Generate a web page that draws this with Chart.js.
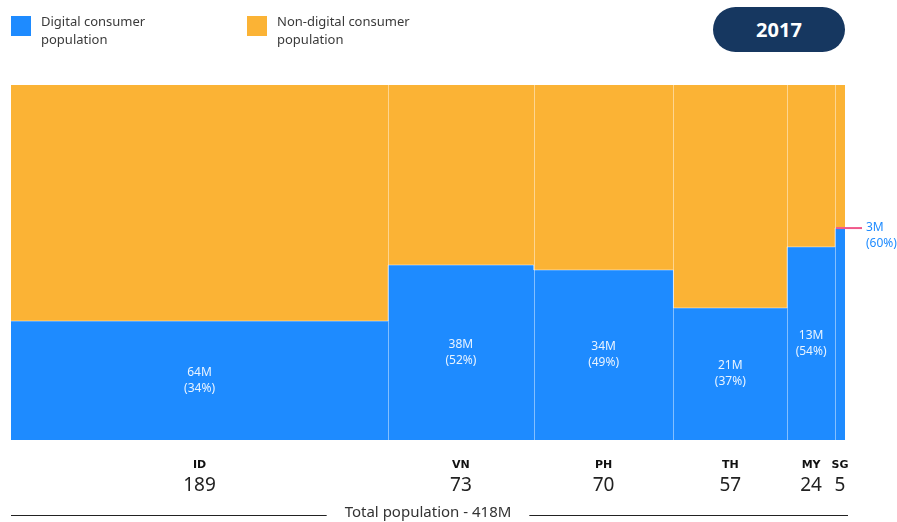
<!DOCTYPE html>
<html>
<head>
<meta charset="utf-8">
<script src="https://cdn.jsdelivr.net/npm/chart.js@4/dist/chart.umd.min.js"></script>
<style>
  body { margin: 0; background: #fff; font-family: "Noto Sans", sans-serif; }
  #wrap { position: relative; width: 897px; height: 522px; }
  .legend { position: absolute; top: 12px; display: flex; align-items: flex-start; font-size: 13px; line-height: 18px; color: #3a3a3a; }
  .legend span.box { width: 20px; height: 20px; margin-top: 4px; margin-right: 10px; flex: none; }
  #badge { position: absolute; left: 713px; top: 7px; width: 132px; height: 45px; border-radius: 23px;
           background: #163760; color: #fff; font: bold 20px "Noto Sans", sans-serif; text-align: center; line-height: 45px; }
</style>
</head>
<body>
<div id="wrap">
  <canvas id="chart" width="897" height="522"></canvas>
  <div class="legend" style="left:11px"><span class="box" style="background:#1e8bff"></span><div>Digital consumer<br>population</div></div>
  <div class="legend" style="left:247px"><span class="box" style="background:#fbb335"></span><div>Non-digital consumer<br>population</div></div>
  <div id="badge">2017</div>
</div>
<script>
// 2017 populations (M) and digital consumer share
const countries = ["ID", "VN", "PH", "TH", "MY", "SG"];
const population = [189, 73, 70, 57, 24, 5];
const digitalM = [64, 38, 34, 21, 13, 3];
const digitalPctLabel = [34, 52, 49, 37, 54, 60];
const digitalShare = [33.5, 49.3, 47.9, 37.2, 54.4, 59.7]; // heights as drawn
const totalLabel = "Total population - 418M";

const BLUE = "#1e8bff";
const ORANGE = "#fbb335";

const total = population.reduce((a, b) => a + b, 0);
const starts = [];
let acc = 0;
population.forEach(p => { starts.push(acc); acc += p; });
const centers = starts.map((s, i) => s + population[i] / 2);
const bounds = starts.slice(1);

// step points: each segment takes the value of the point where it starts
const digitalPts = starts.map((s, i) => ({ x: s, y: digitalShare[i] }));
digitalPts.push({ x: total, y: digitalShare[digitalShare.length - 1] });
const fullPts = digitalPts.map(p => ({ x: p.x, y: 100 }));

const labelsPlugin = {
  id: "labels",
  afterDatasetsDraw(chart) {
    const { ctx, chartArea, scales: { x, y } } = chart;
    ctx.save();
    // column separators
    ctx.strokeStyle = "rgba(255,255,255,0.45)";
    ctx.lineWidth = 1;
    ctx.beginPath();
    bounds.forEach(b => {
      const px = Math.round(x.getPixelForValue(b)) + 0.5;
      ctx.moveTo(px, chartArea.top);
      ctx.lineTo(px, chartArea.bottom);
    });
    ctx.stroke();

    ctx.font = "12px 'Noto Sans', sans-serif";
    ctx.textAlign = "center";
    ctx.textBaseline = "middle";
    const last = countries.length - 1;
    countries.forEach((c, i) => {
      if (i === last) return;
      const cx = x.getPixelForValue(centers[i]);
      const cy = (y.getPixelForValue(digitalShare[i]) + y.getPixelForValue(0)) / 2;
      ctx.fillStyle = "rgba(255,255,255,0.9)";
      ctx.fillText(digitalM[i] + "M", cx, cy - 8);
      ctx.fillText("(" + digitalPctLabel[i] + "%)", cx, cy + 8);
    });
    // SG callout
    const top = y.getPixelForValue(digitalShare[last]);
    const right = x.getPixelForValue(total);
    ctx.strokeStyle = "#f0588a";
    ctx.lineWidth = 2;
    ctx.beginPath();
    ctx.moveTo(right - 9, top);
    ctx.lineTo(right + 17, top);
    ctx.stroke();
    ctx.fillStyle = BLUE;
    ctx.textAlign = "left";
    ctx.fillText(digitalM[last] + "M", right + 21, top);
    ctx.fillText("(" + digitalPctLabel[last] + "%)", right + 21, top + 16);
    // total population line
    const midX = (chartArea.left + chartArea.right) / 2;
    const ty = 513;
    ctx.font = "15px 'Noto Sans', sans-serif";
    ctx.fillStyle = "#333";
    ctx.textAlign = "center";
    ctx.fillText(totalLabel, midX, ty);
    const tw = ctx.measureText(totalLabel).width;
    ctx.strokeStyle = "#222";
    ctx.lineWidth = 1;
    ctx.beginPath();
    ctx.moveTo(chartArea.left, ty + 2.5);
    ctx.lineTo(midX - tw / 2 - 18, ty + 2.5);
    ctx.moveTo(midX + tw / 2 + 18, ty + 2.5);
    ctx.lineTo(chartArea.right + 3, ty + 2.5);
    ctx.stroke();
    ctx.restore();
  }
};

const sameRange = { type: "linear", min: 0, max: total, position: "bottom" };

new Chart(document.getElementById("chart"), {
  type: "line",
  data: {
    datasets: [
      {
        label: "Digital consumer population",
        data: digitalPts,
        stepped: "before",
        fill: "origin",
        backgroundColor: BLUE,
        borderColor: "rgba(255,255,255,0.45)",
        borderWidth: 1,
        pointRadius: 0
      },
      {
        label: "Non-digital consumer population",
        data: fullPts,
        stepped: "before",
        fill: "-1",
        backgroundColor: ORANGE,
        borderWidth: 0,
        pointRadius: 0
      }
    ]
  },
  options: {
    responsive: false,
    animation: false,
    events: [],
    layout: { padding: { left: 11, right: 52, top: 85, bottom: 21 } },
    plugins: { legend: { display: false }, tooltip: { enabled: false } },
    scales: {
      y: { min: 0, max: 100, display: false },
      x: { ...sameRange, display: false },
      xCode: {
        ...sameRange,
        weight: 1,
        afterBuildTicks: s => { s.ticks = centers.map(v => ({ value: v })); },
        afterFit: s => { s.height = 31; },
        grid: { display: false, drawTicks: false },
        border: { display: false },
        ticks: {
          autoSkip: false, maxRotation: 0, padding: 19,
          color: "#111",
          font: { family: "'DejaVu Sans', sans-serif", size: 11, weight: "bold" },
          callback: (v, i) => countries[i]
        }
      },
      xPop: {
        ...sameRange,
        weight: 2,
        afterBuildTicks: s => { s.ticks = centers.map(v => ({ value: v })); },
        afterFit: s => { s.height = 30; },
        grid: { display: false, drawTicks: false },
        border: { display: false },
        ticks: {
          autoSkip: false, maxRotation: 0, padding: 3,
          color: "#222",
          font: { family: "'Noto Sans', sans-serif", size: 19 },
          callback: (v, i) => String(population[i])
        }
      }
    }
  },
  plugins: [labelsPlugin]
});
</script>
</body>
</html>
